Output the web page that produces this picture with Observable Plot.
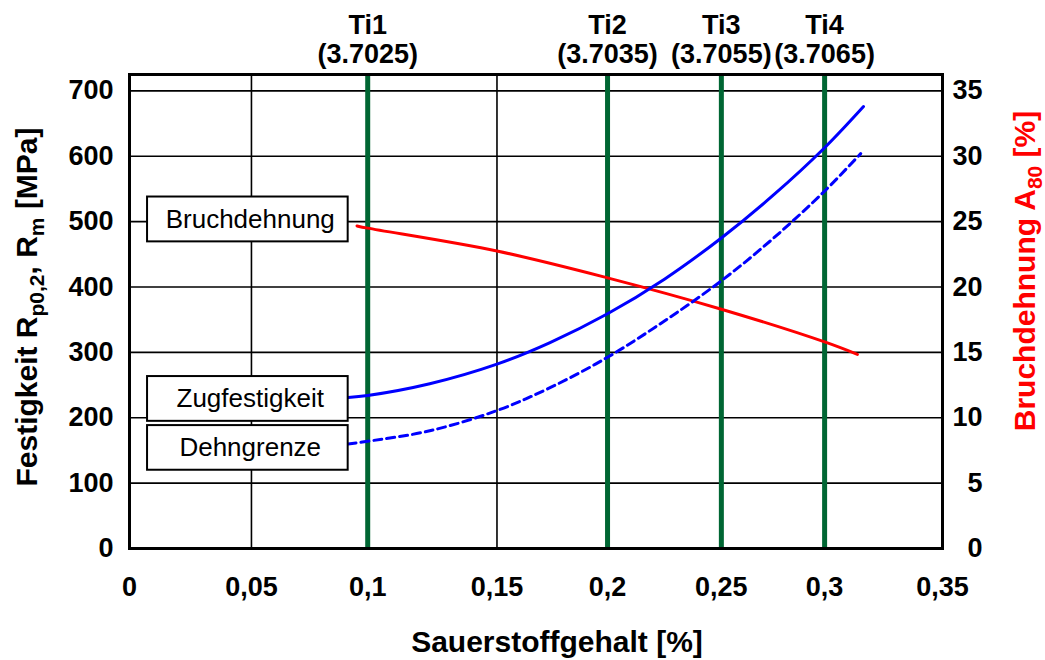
<!DOCTYPE html>
<html>
<head>
<meta charset="utf-8">
<script src="https://cdn.jsdelivr.net/npm/d3@7"></script>
<script src="https://cdn.jsdelivr.net/npm/@observablehq/plot@0.6"></script>
<style>
  html, body { margin: 0; padding: 0; background: #fff; }
  #chart { width: 1045px; height: 660px; }
</style>
</head>
<body>
<div id="chart"></div>
<script>
// ---- Data ----
const xTicks = [0, 0.05, 0.1, 0.15, 0.2, 0.25, 0.3, 0.35];
const yTicksLeft = [0, 100, 200, 300, 400, 500, 600, 700];      // MPa
const yTicksRight = [0, 5, 10, 15, 20, 25, 30, 35];               // %

// Alloys (vertical markers)
const tiNames = ["Ti1", "Ti2", "Ti3", "Ti4"];
const tiCodes = ["3.7025", "3.7035", "3.7055", "3.7065"];
const tiOxygen = [0.1, 0.2, 0.25, 0.3];

// Zugfestigkeit R_m [MPa]
const zugX = [0.0916, 0.1, 0.124, 0.15, 0.174, 0.2, 0.225, 0.25, 0.275, 0.3, 0.3165];
const zugY = [231, 234, 252, 282, 315, 359, 412, 475, 540, 613, 676];

// Dehngrenze R_p0,2 [MPa]
const dehnX = [0.0916, 0.1, 0.124, 0.15, 0.174, 0.2, 0.225, 0.25, 0.275, 0.3, 0.3153];
const dehnY = [160, 164, 180, 211, 246, 292.5, 348, 409.5, 474, 546.7, 604];

// Bruchdehnung A_80 [%]
const bruchX = [0.0954, 0.1, 0.15, 0.2, 0.25, 0.3, 0.3139];
const bruchY = [24.67, 24.5, 22.75, 20.7, 18.3, 15.8, 14.85];

// Series labels
const seriesLabels = ["Bruchdehnung", "Zugfestigkeit", "Dehngrenze"];

// ---- Layout / annotation geometry (not data) ----
const W = 1045, H = 660, ML = 129, MR = 103, MT = 74, MB = 112;
// the original x axis is not evenly spaced: tick positions as fractions of the frame width
const xTickFrac = [0, 0.150, 0.293, 0.452, 0.588, 0.728, 0.855, 1];
const xRange = xTickFrac.map(f => ML + f * (W - ML - MR));
const rightFactor = 700 / 35; // right axis % -> left axis MPa
const labelBoxes = [
  {x1: 0.0074, x2: 0.0916, y1: 469, y2: 537.6},
  {x1: 0.0074, x2: 0.0916, y1: 194.5, y2: 263},
  {x1: 0.0074, x2: 0.0916, y1: 119.7, y2: 188}
].map((b, i) => ({...b, label: seriesLabels[i]}));

const zug = zugX.map((x, i) => ({x, y: zugY[i]}));
const dehn = dehnX.map((x, i) => ({x, y: dehnY[i]}));
const bruch = bruchX.map((x, i) => ({x, y: bruchY[i]}));
const ti = tiNames.map((n, i) => ({name: n, code: tiCodes[i], x: tiOxygen[i]}));

const FONT = "'Liberation Sans', Arial, Helvetica, sans-serif";
const fmtX = d => String(d).replace(".", ",");

const svg = Plot.plot({
  width: W,
  height: H,
  marginLeft: ML,
  marginRight: MR,
  marginTop: MT,
  marginBottom: MB,
  style: {fontFamily: FONT, background: "#fff", color: "#000"},
  x: {type: "linear", domain: xTicks, range: xRange, label: null},
  y: {domain: [0, 725], label: null},
  marks: [
    // gridlines
    Plot.ruleY(yTicksLeft, {stroke: "#000", strokeWidth: 1.6}),
    Plot.ruleX(xTicks.filter(d => d > 0 && d < 0.35), {stroke: "#000", strokeWidth: 1.6}),
    // alloy markers
    Plot.ruleX(ti, {x: "x", y1: 0, y2: 725, stroke: "#006633", strokeWidth: 5}),
    Plot.text(ti, {
      x: "x", frameAnchor: "top", lineAnchor: "bottom", dy: -12,
      text: d => d.name + "\n(" + d.code + ")",
      fontSize: 27, fontWeight: "bold", lineHeight: 1.07, fill: "#000"
    }),
    // curves
    Plot.line(bruch, {x: "x", y: d => d.y * rightFactor, stroke: "#ff0000", strokeWidth: 3, curve: "catmull-rom"}),
    Plot.line(dehn, {x: "x", y: "y", stroke: "#0000ff", strokeWidth: 3, strokeDasharray: "8,5", curve: "catmull-rom"}),
    Plot.line(zug, {x: "x", y: "y", stroke: "#0000ff", strokeWidth: 3, curve: "catmull-rom"}),
    // label boxes
    Plot.rect(labelBoxes, {x1: "x1", x2: "x2", y1: "y1", y2: "y2", fill: "#fff", stroke: "#000", strokeWidth: 2}),
    Plot.text(labelBoxes, {x: d => (d.x1 + d.x2) / 2, y: d => (d.y1 + d.y2) / 2, text: "label", fontSize: 26, fill: "#000"}),
    // axes
    Plot.axisX({ticks: xTicks, tickFormat: fmtX, tickSize: 0, tickPadding: 28, fontSize: 27, fontWeight: "bold", label: null}),
    Plot.axisY({ticks: yTicksLeft, tickSize: 0, tickPadding: 16, fontSize: 27, fontWeight: "bold", label: null}),
    Plot.axisY({
      anchor: "right", ticks: yTicksRight.map(d => d * rightFactor),
      tickFormat: d => String(d / rightFactor), tickSize: 0, tickPadding: 40, textAnchor: "end",
      fontSize: 27, fontWeight: "bold", label: null
    }),
    Plot.frame({stroke: "#000", strokeWidth: 3})
  ]
});

document.getElementById("chart").appendChild(svg);

// ---- Axis titles with subscripts ----
const s = d3.select(svg);
// bottom
s.append("text")
  .attr("x", 557).attr("y", 652)
  .attr("text-anchor", "middle")
  .attr("font-family", FONT).attr("font-size", 30).attr("font-weight", "bold").attr("fill", "#000")
  .text("Sauerstoffgehalt [%]");

// left
const lt = s.append("text")
  .attr("transform", "translate(37,307) rotate(-90)")
  .attr("text-anchor", "middle")
  .attr("font-family", FONT).attr("font-size", 30).attr("font-weight", "bold").attr("fill", "#000");
lt.append("tspan").text("Festigkeit R");
lt.append("tspan").attr("font-size", 21).attr("dy", 7).text("p0,2");
lt.append("tspan").attr("dy", -7).text(", R");
lt.append("tspan").attr("font-size", 21).attr("dy", 7).text("m");
lt.append("tspan").attr("dy", -7).text(" [MPa]");

// right
const rt = s.append("text")
  .attr("transform", "translate(1035,271) rotate(-90)")
  .attr("text-anchor", "middle")
  .attr("font-family", FONT).attr("font-size", 30).attr("font-weight", "bold").attr("fill", "#ff0000");
rt.append("tspan").text("Bruchdehnung A");
rt.append("tspan").attr("font-size", 21).attr("dy", 7).text("80");
rt.append("tspan").attr("dy", -7).text(" [%]");
</script>
</body>
</html>
